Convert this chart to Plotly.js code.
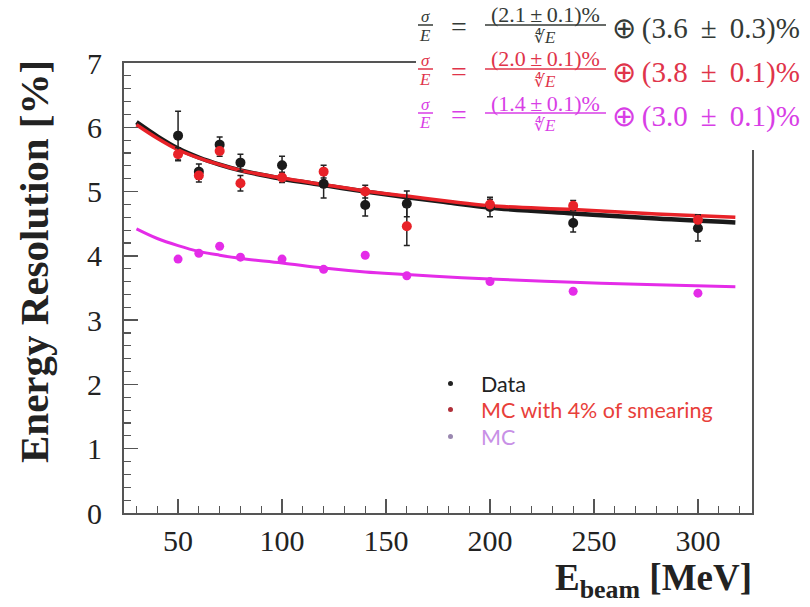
<!DOCTYPE html>
<html>
<head>
<meta charset="utf-8">
<script src="https://cdn.plot.ly/plotly-3.0.1.min.js"></script>
<style>html,body{margin:0;padding:0;background:#fff;}#chart{width:810px;height:607px;}</style>
</head>
<body>
<div id="chart"></div>
<script>
// ---- data ----
const energies = [50, 60, 70, 80, 100, 120, 140, 160, 200, 240, 300];
const dataRes   = [5.87, 5.31, 5.73, 5.45, 5.41, 5.12, 4.79, 4.81, 4.76, 4.51, 4.43];
const dataErr   = [0.38, 0.12, 0.12, 0.13, 0.14, 0.22, 0.17, 0.20, 0.15, 0.14, 0.20];
const mcSmRes   = [5.58, 5.25, 5.63, 5.13, 5.22, 5.31, 5.00, 4.46, 4.80, 4.78, 4.56];
const mcSmErr   = [0.10, 0.10, 0.08, 0.12, 0.08, 0.10, 0.10, 0.30, 0.08, 0.08, 0.08];
const mcRes     = [3.95, 4.04, 4.15, 3.98, 3.95, 3.79, 4.01, 3.69, 3.60, 3.45, 3.42];

const fitE      = [30, 40, 50, 60, 70, 80, 100, 120, 140, 160, 180, 200, 240, 280, 318];
const fitData   = [6.08, 5.86, 5.67, 5.53, 5.42, 5.33, 5.20, 5.10, 5.00, 4.91, 4.83, 4.75, 4.66, 4.58, 4.52];
const fitMcSm   = [6.04, 5.83, 5.65, 5.52, 5.42, 5.33, 5.21, 5.11, 5.01, 4.93, 4.85, 4.78, 4.72, 4.65, 4.60];
const fitMc     = [4.42, 4.27, 4.16, 4.07, 4.01, 3.96, 3.89, 3.81, 3.75, 3.71, 3.67, 3.64, 3.59, 3.55, 3.52];

const xTicks = [50, 100, 150, 200, 250, 300];
const yTicks = [0, 1, 2, 3, 4, 5, 6, 7];
const legendLabels = ["Data", "MC with 4% of smearing", "MC"];
const formulaNum = ["(2.1 ± 0.1)%", "(2.0 ± 0.1)%", "(1.4 ± 0.1)%"];
const formulaConst = ["⊕ (3.6 ± 0.3)%", "⊕ (3.8 ± 0.1)%", "⊕ (3.0 ± 0.1)%"];

// ---- styling / layout ----
const W = 810, H = 607;
const L = 124, R = 752, T = 63, B = 513;
const px = x => (x - L) / (R - L);
const py = y => (B - y) / (B - T);
const thin = s => s.replace(/ /g, '\u2009');
const wide = s => s.replace(/^⊕ /, '⊕\u2009').replace(/ /g, '\u00A0\u2009');

const cBlack = '#1a1a1a', cRed = '#e82228', cMag = '#e42ce8';
const errCol = '#222222';

const traces = [
  {x: fitE, y: fitData, mode: 'lines', line: {color: cBlack, width: 4.5, shape: 'spline'}, hoverinfo: 'skip'},
  {x: fitE, y: fitMcSm, mode: 'lines', line: {color: cRed, width: 3.5, shape: 'spline'}, hoverinfo: 'skip'},
  {x: fitE, y: fitMc, mode: 'lines', line: {color: cMag, width: 3, shape: 'spline'}, hoverinfo: 'skip'},
  {x: energies, y: mcRes, mode: 'markers', marker: {color: cMag, size: 9}},
  {x: energies, y: dataRes, mode: 'markers', marker: {color: cBlack, size: 10},
   error_y: {type: 'data', array: dataErr, color: errCol, thickness: 1.5, width: 3}},
  {x: energies, y: mcSmRes, mode: 'markers', marker: {color: cRed, size: 10},
   error_y: {type: 'data', array: mcSmErr, color: errCol, thickness: 1.5, width: 3}}
];

const serif = 'Liberation Serif, Times New Roman, serif';
const annotations = [];
const shapes = [];

// white box behind the formula block
shapes.push({type: 'rect', xref: 'paper', yref: 'paper', layer: 'above',
  x0: px(416), x1: px(812), y0: py(150), y1: py(-2),
  fillcolor: '#ffffff', line: {width: 0}});

const fColors = ['#343a36', '#e0344a', '#d83ee6'];
const rowY = [27, 71, 115];
for (let i = 0; i < 3; i++) {
  const c = rowY[i], col = fColors[i];
  const add = (txt, x, y, size, xanchor) => annotations.push({
    text: txt, xref: 'paper', yref: 'paper', x: px(x), y: py(y), xanchor: xanchor || 'center', yanchor: 'middle',
    showarrow: false, borderpad: 0, font: {family: serif, size: size, color: col}});
  add('<i>σ</i>', 425, c - 11, 17);
  add('<i>E</i>', 425, c + 8, 17);
  shapes.push({type: 'line', xref: 'paper', yref: 'paper', layer: 'above',
    x0: px(418), x1: px(433), y0: py(c - 2), y1: py(c - 2), line: {color: col, width: 1.5}});
  add('=', 459, c, 28);
  add(thin(formulaNum[i]), 545, c - 12, 22);
  shapes.push({type: 'line', xref: 'paper', yref: 'paper', layer: 'above',
    x0: px(485), x1: px(606), y0: py(c - 2), y1: py(c - 2), line: {color: col, width: 1.5}});
  add('∜<i>E</i>', 545, c + 10, 17);
  add(wide(formulaConst[i]), 611, c + 1, 29, 'left');
}

// legend block
const legCols = ['#222222', '#e8403a', '#c890e6'];
const dotCols = ['#222222', '#b0303a', '#9a88b0'];
const legY = [384, 410, 437];
for (let i = 0; i < 3; i++) {
  annotations.push({text: legendLabels[i], xref: 'paper', yref: 'paper', x: px(480), y: py(legY[i]),
    xanchor: 'left', yanchor: 'middle', showarrow: false, borderpad: 0,
    font: {family: 'Lato, Open Sans, sans-serif', size: 21.5, color: legCols[i]}});
  shapes.push({type: 'circle', xref: 'paper', yref: 'paper', layer: 'above',
    x0: px(448), x1: px(453), y0: py(legY[i] - 3), y1: py(legY[i] + 2),
    fillcolor: dotCols[i], line: {width: 0}});
}

// axis titles
annotations.push({text: '<b>Energy Resolution [%]</b>', xref: 'paper', yref: 'paper',
  x: px(34), y: py(262), textangle: -90, showarrow: false, xanchor: 'center', yanchor: 'middle',
  borderpad: 0, font: {family: serif, size: 41, color: '#222'}});
annotations.push({text: '<b>E<sub>beam</sub> [MeV]</b>', xref: 'paper', yref: 'paper',
  x: px(753), y: py(580), showarrow: false, xanchor: 'right', yanchor: 'middle',
  borderpad: 0, font: {family: serif, size: 37, color: '#222'}});

const layout = {
  width: W, height: H,
  margin: {l: L, r: W - R, t: T, b: H - B, pad: 0},
  paper_bgcolor: '#ffffff', plot_bgcolor: '#ffffff',
  showlegend: false,
  xaxis: {range: [24, 326], tickvals: xTicks, ticktext: xTicks.map(String),
    ticks: 'inside', ticklen: 14, tickwidth: 1.5, tickcolor: '#555',
    minor: {dtick: 10, tick0: 0, ticks: 'inside', ticklen: 7, tickwidth: 1.2, tickcolor: '#555'},
    showline: true, linecolor: '#555', linewidth: 2, mirror: true,
    showgrid: false, zeroline: false, ticklabelstandoff: 0,
    tickfont: {family: serif, size: 30, color: '#222'}},
  yaxis: {range: [0, 7], tickvals: yTicks, ticktext: yTicks.map(String),
    ticks: 'inside', ticklen: 14, tickwidth: 1.5, tickcolor: '#555',
    minor: {dtick: 0.2, tick0: 0, ticks: 'inside', ticklen: 7, tickwidth: 1.2, tickcolor: '#555'},
    showline: true, linecolor: '#555', linewidth: 2, mirror: true,
    showgrid: false, zeroline: false, ticklabelstandoff: 14,
    tickfont: {family: serif, size: 30, color: '#222'}},
  shapes: shapes,
  annotations: annotations
};

Plotly.newPlot('chart', traces, layout, {staticPlot: true, displayModeBar: false});
</script>
</body>
</html>
